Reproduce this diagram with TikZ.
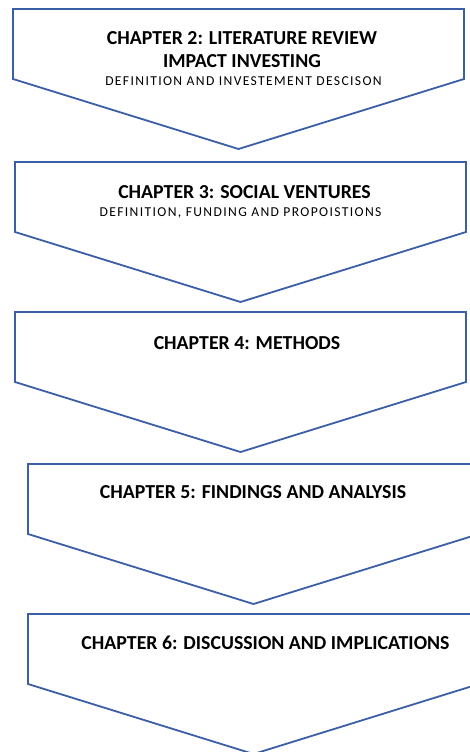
\documentclass[tikz,border=0pt]{standalone}
\usepackage{fontspec}
\setmainfont{Carlito}
\usepackage{tikz}
\definecolor{chevBlue}{HTML}{3B5EA6}

\begin{document}
\begin{tikzpicture}[x=1pt, y=-1pt, line width=1.8pt]
    \useasboundingbox (0,0) rectangle (470,752);

    \tikzstyle{chevLine}=[draw=chevBlue, line join=miter];
    \tikzstyle{chapTitle}=[font=\fontsize{19.8}{22}\selectfont\bfseries, inner sep=0pt, text height=12.7pt, text depth=0pt];
    \tikzstyle{chapSub}=[font=\fontsize{13.6}{15}\selectfont\addfontfeature{LetterSpace=10}, inner sep=0pt, text height=8.8pt, text depth=0pt];

    % the five down-pointing chevrons
    \foreach \lx/\ty in {13/9, 15/162, 15/312, 28/464, 28/614}
        \draw[chevLine] (\lx,\ty) -- (\lx+451,\ty) -- (\lx+451,\ty+70)
            -- (\lx+225.5,\ty+140) -- (\lx,\ty+70) -- cycle;

    \node[chapTitle] (ch2) at (242,38) {CHAPTER 2: LITERATURE REVIEW};
    \node[chapTitle] (ch2b) at (242,61) {IMPACT INVESTING};
    \node[chapSub] (ch2c) at (243.5,81) {DEFINITION AND INVESTEMENT DESCISON};
    \node[chapTitle] (ch3) at (244.5,192) {CHAPTER 3: SOCIAL VENTURES};
    \node[chapSub] (ch3b) at (240.5,212) {DEFINITION, FUNDING AND PROPOISTIONS};
    \node[chapTitle] (ch4) at (247,343) {CHAPTER 4: METHODS};
    \node[chapTitle] (ch5) at (253,492) {CHAPTER 5: FINDINGS AND ANALYSIS};
    \node[chapTitle] (ch6) at (265.5,643) {CHAPTER 6: DISCUSSION AND IMPLICATIONS};
\end{tikzpicture}
\end{document}
